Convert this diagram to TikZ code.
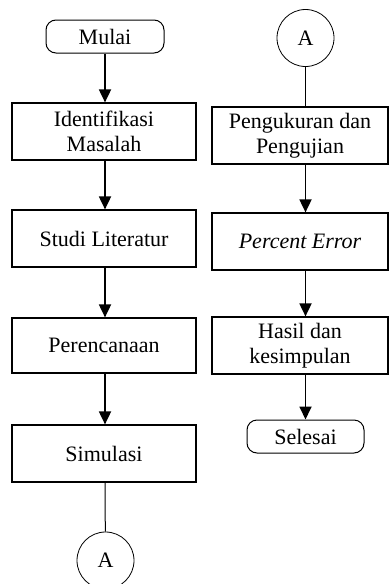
\documentclass[tikz,border=0pt]{standalone}
\usepackage{fontspec}
\setmainfont{Liberation Serif}
\usetikzlibrary{arrows.meta}
\begin{document}
\begin{tikzpicture}[x=1pt,y=1pt,
  every node/.style={font=\fontsize{22}{25}\selectfont, align=center, inner sep=0pt},
  procbox/.style={draw, line width=1.2pt, minimum height=57pt},
  lbox/.style={procbox, minimum width=184pt},
  rbox/.style={procbox, minimum width=176pt},
  term/.style={draw, line width=1pt, rounded corners=10pt, minimum height=33pt},
  conn/.style={draw, circle, line width=0.8pt, minimum size=57pt},
  arr/.style={line width=1.8pt, -{Triangle[width=12pt,length=13pt]}},
  plain/.style={line width=1pt}]
\useasboundingbox (0,0) rectangle (390,-584);
% left column
\node[term, minimum width=118pt] (mulai) at (105,-36.5) {Mulai};
\node[lbox] (ident) at (104,-131.5) {Identifikasi\\Masalah};
\node[lbox] (studi) at (104,-238.5) {Studi Literatur};
\node[lbox, minimum height=55pt] (peren) at (104,-345.5) {Perencanaan};
\node[lbox] (simul) at (104,-453.5) {Simulasi};
\node[conn] (a1) at (105.5,-560.5) {A};
% right column
\node[conn] (a2) at (305.5,-38) {A};
\node[rbox] (peng) at (300,-135.5) {Pengukuran dan\\Pengujian};
\node[rbox] (perc) at (300,-241.5) {\itshape Percent Error};
\node[rbox] (hasil) at (300,-345.5) {Hasil dan\\kesimpulan};
\node[term, minimum width=117pt] (seles) at (305.5,-436.5) {Selesai};
% connectors left
\draw[arr] (mulai) -- (mulai |- ident.north);
\draw[arr] (mulai |- ident.south) -- (mulai |- studi.north);
\draw[arr] (mulai |- studi.south) -- (mulai |- peren.north);
\draw[arr] (mulai |- peren.south) -- (mulai |- simul.north);
\draw[plain] (mulai |- simul.south) -- (a1);
% connectors right
\draw[plain] (a2) -- (a2 |- peng.north);
\draw[arr] (a2 |- peng.south) -- (a2 |- perc.north);
\draw[arr] (a2 |- perc.south) -- (a2 |- hasil.north);
\draw[arr] (a2 |- hasil.south) -- (seles);
\end{tikzpicture}
\end{document}
